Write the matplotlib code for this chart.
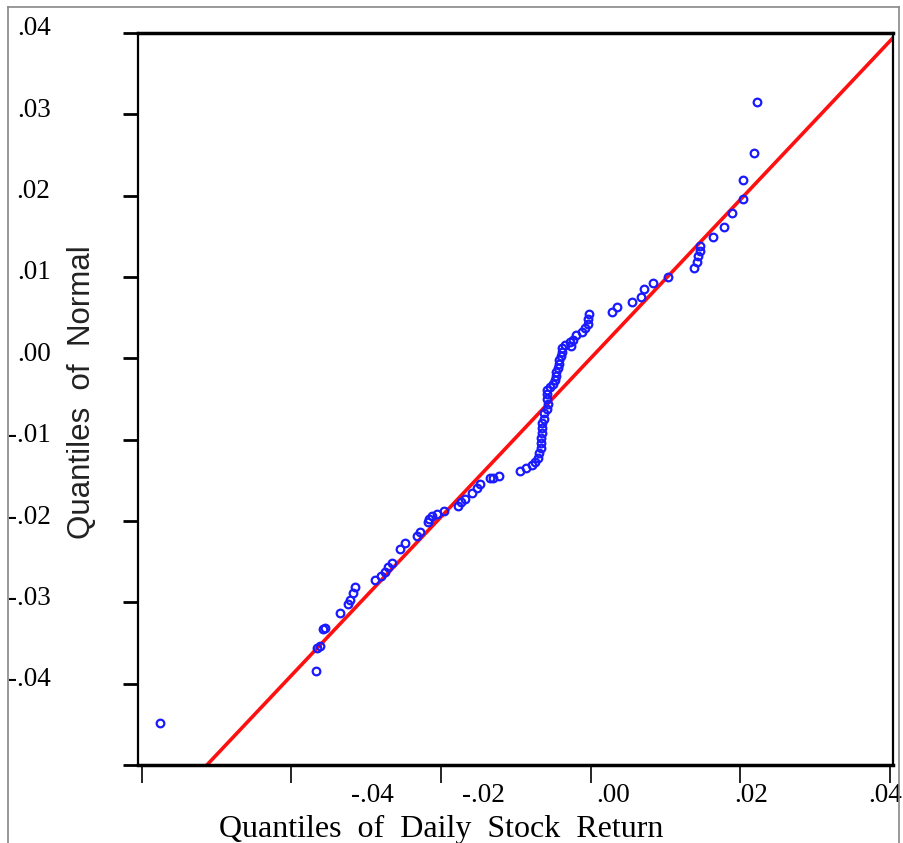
import numpy as np
import matplotlib.pyplot as plt
from matplotlib.lines import Line2D
from matplotlib.transforms import ScaledTranslation

# quantiles of daily stock return (x) vs quantiles of normal (y)
stockQ = [-0.0575, -0.0367, -0.0366, -0.0362, -0.0358, -0.0355, -0.0335, -0.0324, -0.0322, -0.0318,
          -0.0315, -0.0288, -0.0280, -0.0275, -0.0271, -0.0265, -0.0255, -0.0248, -0.0232, -0.0228,
          -0.0218, -0.0216, -0.0212, -0.0205, -0.0196, -0.0178, -0.0173, -0.0168, -0.0158, -0.0152,
          -0.0148, -0.0135, -0.0130, -0.0122, -0.0095, -0.0086, -0.0079, -0.0075, -0.0071, -0.0069,
          -0.0067, -0.0066, -0.0066, -0.0065, -0.0065, -0.0065, -0.0063, -0.0062, -0.0059, -0.0057,
          -0.0058, -0.0059, -0.0059, -0.0055, -0.0051, -0.0048, -0.0047, -0.0046, -0.0044, -0.0043,
          -0.0042, -0.0040, -0.0039, -0.0038, -0.0034, -0.0028, -0.0023, -0.0026, -0.0019, -0.0012,
          -0.0008, -0.0004, -0.0003, -0.0002, 0.0029, 0.0035, 0.0055, 0.0067, 0.0071, 0.0083,
          0.0103, 0.0138, 0.0142, 0.0144, 0.0146, 0.0146, 0.0163, 0.0178, 0.0189, 0.0203,
          0.0203, 0.0218, 0.0222]
normQ = [-0.0448, -0.0385, -0.0356, -0.0354, -0.0333, -0.0331, -0.0313, -0.0302, -0.0297, -0.0288,
         -0.0281, -0.0273, -0.0268, -0.0263, -0.0257, -0.0252, -0.0235, -0.0227, -0.0219, -0.0214,
         -0.0201, -0.0198, -0.0194, -0.0192, -0.0188, -0.0182, -0.0177, -0.0173, -0.0166, -0.0160,
         -0.0154, -0.0147, -0.0147, -0.0145, -0.0139, -0.0135, -0.0131, -0.0128, -0.0123, -0.0117,
         -0.0110, -0.0104, -0.0098, -0.0092, -0.0086, -0.0080, -0.0074, -0.0067, -0.0062, -0.0056,
         -0.0050, -0.0044, -0.0039, -0.0035, -0.0032, -0.0027, -0.0022, -0.0017, -0.0012, -0.0007,
         -0.0002, 0.0003, 0.0008, 0.0013, 0.0016, 0.0020, 0.0022, 0.0015, 0.0029, 0.0032,
         0.0037, 0.0042, 0.0048, 0.0054, 0.0057, 0.0063, 0.0069, 0.0076, 0.0085, 0.0093,
         0.0100, 0.0111, 0.0118, 0.0126, 0.0132, 0.0138, 0.0149, 0.0161, 0.0179, 0.0196,
         0.0219, 0.0252, 0.0315]

# reference line end points
lineX = [-0.0513, 0.0404]
lineY = [-0.0500, 0.0394]

xTicks = [-0.06, -0.04, -0.02, 0.00, 0.02, 0.04]
xTickText = ['-.04', '-.02', '.00', '.02', '.04']
xTextAt = [-0.0292, -0.0144, 0.0030, 0.0215, 0.0394]
yTicks = [-0.05, -0.04, -0.03, -0.02, -0.01, 0.00, 0.01, 0.02, 0.03, 0.04]
yTickText = ['', '-.04', '-.03', '-.02', '-.01', '.00', '.01', '.02', '.03', '.04']

fig = plt.figure(figsize=(9.04, 8.43), dpi=100)
ax = fig.add_axes([0.1527, 0.0925, 0.8351, 0.8684])

ax.plot(stockQ, normQ, 'o', mfc='none', mec='#1a1aff', ms=5.5, mew=1.6, zorder=3)
ax.plot(lineX, lineY, color='#ff1010', lw=2.6, zorder=2)

ax.set_xlim(-0.0605, 0.0404)
ax.set_ylim(-0.05, 0.04)

ax.set_xticks(xTicks)
ax.set_xticklabels([''] * len(xTicks))
ax.set_xticks(xTextAt, xTickText, minor=True)
ax.tick_params(axis='x', which='major', length=13, width=1.2, direction='out')
ax.tick_params(axis='x', which='minor', length=0, pad=13)

ax.set_yticks(yTicks)
ax.set_yticklabels(yTickText)
ax.tick_params(axis='y', length=11, width=2, direction='out', pad=52)
off = ScaledTranslation(0, 7 / 100, fig.dpi_scale_trans)
for lab in ax.get_yticklabels():
    lab.set_transform(lab.get_transform() + off)

for lab in ax.get_xticklabels(minor=True) + ax.get_yticklabels():
    lab.set_fontfamily('Liberation Serif')
    lab.set_fontsize(19.5)

for s in ax.spines.values():
    s.set_linewidth(1.6)
ax.spines['top'].set_linewidth(2.5)
ax.spines['bottom'].set_linewidth(2.5)

ax.set_xlabel('Quantiles  of  Daily  Stock  Return', family='Liberation Serif', fontsize=23)
ax.xaxis.set_label_coords(0.401, -0.068)
ax.set_ylabel('Quantiles  of  Normal', family='Liberation Sans', fontsize=22.5, color='#222222')
ax.yaxis.set_label_coords(-0.054, 0.51)

# thin grey frame round the picture
W, H = 904, 843
for xs, ys in [([8, 8], [0, 836]), ([8, 899], [836, 836]), ([899, 899], [836, 0])]:
    fig.add_artist(Line2D([x / W for x in xs], [y / H for y in ys], color='#888888', lw=1.2))

fig.savefig('out.png', dpi=100)
